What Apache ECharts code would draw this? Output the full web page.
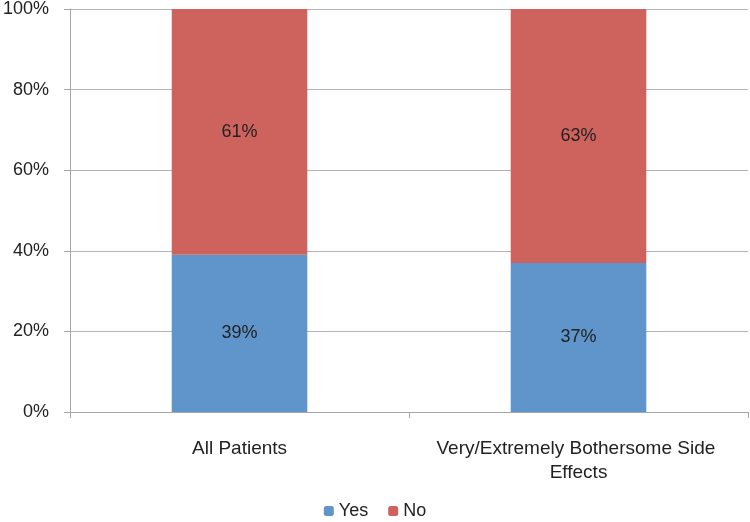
<!DOCTYPE html>
<html><head><meta charset="utf-8">
<script src="https://cdn.jsdelivr.net/npm/echarts@6/dist/echarts.min.js"></script>
<style>html,body{margin:0;padding:0;background:#fff}#c{width:750px;height:522px}</style>
</head><body><div id="c"></div>
<script>
const categories = ['All Patients', 'Very/Extremely Bothersome Side Effects'];
const yesValues = [39, 37];
const noValues = [61, 63];
const yTicks = [0, 20, 40, 60, 80, 100];

const chart = echarts.init(document.getElementById('c'));
const font = 'Liberation Sans';
const lbl = {show: true, position: 'inside', formatter: p => p.value + '%', color: '#222', fontSize: 18, fontFamily: font};
chart.setOption({
  animation: false,
  grid: {left: 68, right: 2, top: 9, bottom: 110},
  legend: {top: 502, left: 'center', padding: 0, itemWidth: 10, itemHeight: 10, itemGap: 20,
    textStyle: {fontSize: 18, fontFamily: font, color: '#222'}, data: ['Yes', 'No']},
  xAxis: {type: 'category', data: categories,
    axisLine: {lineStyle: {color: '#a6a6a6'}},
    axisTick: {show: true, length: 6, lineStyle: {color: '#a6a6a6'}},
    axisLabel: {interval: 0, fontSize: 19, fontFamily: font, color: '#222', margin: 25, width: 310, overflow: 'break', lineHeight: 24}},
  yAxis: {type: 'value', min: 0, max: 100, interval: 20,
    axisLine: {show: true, lineStyle: {color: '#a6a6a6'}},
    axisTick: {show: true, length: 6, lineStyle: {color: '#a6a6a6'}},
    splitLine: {lineStyle: {color: '#b3b3b3'}},
    axisLabel: {formatter: v => yTicks.includes(v) ? v + '%' : '', fontSize: 18, fontFamily: font, color: '#222', margin: 21}},
  series: [
    {name: 'Yes', type: 'bar', stack: 's', data: yesValues, barWidth: '40%', itemStyle: {color: '#5F95CA'}, label: lbl},
    {name: 'No', type: 'bar', stack: 's', data: noValues, barWidth: '40%', itemStyle: {color: '#CE635D'}, label: lbl}
  ]
});
</script></body></html>
